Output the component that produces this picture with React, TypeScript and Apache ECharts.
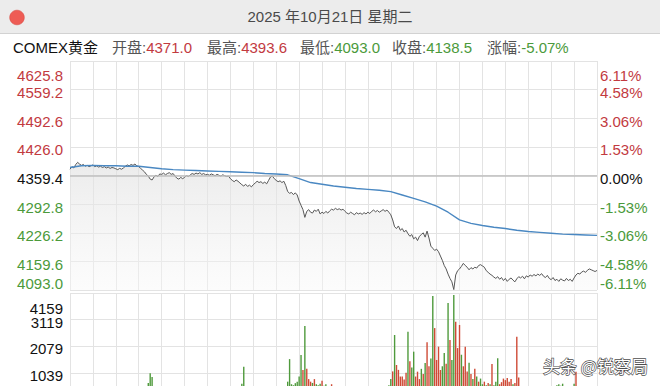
import React, { useEffect, useRef } from 'react';
import * as echarts from 'echarts';

const FONT = '"Liberation Sans", "Noto Sans CJK SC", Arial, sans-serif';

const titleText = '2025 年10月21日 星期二';
const instrument = 'COMEX黄金';
const quoteLabels = ['开盘:', '最高:', '最低:', '收盘:', '涨幅:'];
const quoteValues = ['4371.0', '4393.6', '4093.0', '4138.5', '-5.07%'];
const quoteUp = [true, true, false, false, false];
const watermark = '头条 @锐察局';

const prevClose = 4359.4;
const priceTicks = ['4093.0', '4159.6', '4226.2', '4292.8', '4359.4', '4426.0', '4492.6', '4559.2', '4625.8'];
const pctTicks = ['-6.11%', '-4.58%', '-3.06%', '-1.53%', '0.00%', '1.53%', '3.06%', '4.58%', '6.11%'];
const volTicks = ['0', '1039', '2079', '3119', '4159'];

const sessionMinutes = 1380;
const priceStep = 5; // minutes between price points
const avgStep = 30; // minutes between average points

// 5-minute price readings, 23h session
const price = [
  4374, 4380, 4377, 4385, 4390, 4386, 4383, 4385, 4381, 4383, 4380, 4382,
  4384, 4380, 4382, 4379, 4381, 4378, 4380, 4377, 4379, 4376, 4378, 4377,
  4375, 4373, 4376, 4374, 4377, 4381, 4384, 4382, 4385, 4383, 4386, 4382,
  4380, 4376, 4372, 4368, 4362, 4358, 4351, 4349, 4356, 4360, 4357, 4363,
  4362, 4365, 4361, 4364, 4366, 4362, 4364, 4358, 4353, 4351, 4355, 4352,
  4355, 4359, 4357, 4361, 4364, 4362, 4365, 4363, 4366, 4362, 4364, 4361,
  4362, 4360, 4363, 4361, 4359, 4362, 4360, 4358, 4361, 4359, 4357, 4358,
  4352, 4348, 4345, 4349, 4346, 4342, 4338, 4335, 4339, 4334, 4337, 4333,
  4338, 4342, 4346, 4343, 4345, 4341, 4344, 4340, 4348, 4356, 4358, 4352,
  4348, 4345, 4347, 4343, 4346, 4336, 4322, 4318, 4320, 4315, 4319, 4314,
  4300, 4290, 4280, 4262, 4276, 4280, 4274, 4272, 4279, 4276, 4281, 4270,
  4274, 4271, 4276, 4272, 4277, 4281, 4279, 4283, 4280, 4282, 4279, 4281,
  4276, 4272, 4270, 4274, 4271, 4268, 4273, 4270, 4272, 4269, 4273, 4270,
  4274, 4271, 4276, 4279, 4275, 4278, 4274, 4277, 4280, 4276, 4279, 4274,
  4268, 4256, 4240, 4236, 4242, 4232, 4236, 4228, 4232, 4224, 4218, 4222,
  4212, 4216, 4208, 4218, 4222, 4226, 4216, 4230, 4214, 4195, 4190, 4185,
  4188, 4182, 4172, 4162, 4150, 4142, 4130, 4120, 4112, 4094, 4128, 4138,
  4142, 4148, 4155, 4150, 4146, 4140, 4145, 4142, 4146, 4144, 4150, 4152,
  4149, 4146, 4138, 4134, 4130, 4127, 4123, 4120, 4124, 4118, 4122, 4115,
  4120, 4113, 4118, 4121, 4116, 4112, 4119, 4124, 4121, 4125, 4119, 4126,
  4123, 4128, 4125, 4129, 4126, 4130, 4127, 4131, 4125, 4122, 4127, 4120,
  4117, 4122, 4115, 4118, 4113, 4119, 4116, 4114, 4120, 4115, 4118, 4113,
  4121, 4128, 4132, 4130, 4135, 4137, 4134, 4139, 4142, 4140, 4138, 4136,
  4138.5,
];

// 30-minute average-price readings
const avgPrice = [
  4378, 4382, 4383, 4382, 4382, 4381, 4381, 4378, 4375, 4373, 4372, 4371,
  4370, 4369, 4368, 4367, 4366, 4364, 4363, 4361, 4352, 4343, 4339, 4335,
  4332, 4329, 4327, 4325, 4322, 4314, 4306, 4298, 4288, 4274, 4256, 4248,
  4243, 4239, 4236, 4232, 4229, 4227, 4225, 4223, 4222, 4221, 4220,
];

// 5-minute volume readings
const volume = [
  420, 260, 310, 240, 380, 200, 280, 190, 230, 170, 260, 210,
  180, 240, 160, 220, 150, 260, 190, 140, 210, 170, 230, 150,
  160, 210, 140, 250, 190, 300, 230, 180, 260, 210, 290, 240,
  520, 310, 280, 360, 420, 650, 1030, 880, 450, 380, 300, 340,
  280, 320, 250, 300, 270, 330, 240, 380, 420, 310, 260, 290,
  240, 300, 220, 260, 310, 230, 280, 210, 250, 190, 270, 220,
  200, 240, 180, 230, 260, 190, 220, 170, 250, 210, 300, 260,
  350, 420, 310, 380, 290, 430, 620, 1280, 480, 360, 410, 330,
  300, 380, 340, 290, 360, 270, 320, 280, 420, 480, 390, 350,
  380, 320, 360, 300, 410, 480, 700, 1580, 600, 560, 640, 700,
  900, 1740, 1150, 2870, 1200, 800, 700, 650, 800, 600, 560, 620,
  740, 540, 600, 520, 480, 600, 450, 380, 420, 360, 400, 340,
  380, 320, 360, 300, 340, 280, 330, 300, 360, 290, 340, 310,
  350, 290, 380, 330, 400, 360, 420, 380, 450, 410, 480, 560,
  800, 1100, 2520, 1350, 1160, 900, 900, 780, 1050, 2650, 1500, 1250,
  1870, 900, 1090, 800, 1200, 1000, 1430, 2235, 1300, 1600, 4040, 2790,
  1545, 2065, 1155, 1300, 1820, 1400, 3770, 2325, 1545, 4080, 3040, 2010,
  2910, 1750, 1300, 2065, 1100, 1440, 1000, 800, 1200, 900, 700, 820,
  600, 700, 560, 650, 600, 1390, 560, 700, 1610, 600, 680, 820,
  760, 840, 700, 800, 600, 650, 2455, 860, 480, 420, 380, 450,
  400, 360, 420, 380, 340, 410, 370, 330, 390, 350, 420, 380,
  440, 400, 460, 560, 600, 540, 620, 480, 420, 380, 450, 400,
  620, 1090, 480, 420, 380, 440, 400, 360, 420, 390, 350, 410,
  300,
];

// indices of volume bars drawn red (up); the rest are green (down)
const upBars = [
  122, 124, 125, 126, 128, 132, 137, 169, 171, 172, 173, 174, 175, 176, 178,
  181, 182, 183, 185, 187, 188, 191, 192, 193, 194, 197, 199, 202, 203, 204,
  206, 207, 208, 210, 212, 214, 217, 219, 221, 225, 226, 227, 228, 229, 230,
  231, 233, 234, 235, 265,
];

const RED = '#c23a3f';
const GREEN = '#4b9a3b';
const GRID = '#e3e3e3';
const BAR_RED = '#cf4a36';
const BAR_GREEN = '#4f9a3c';

const P_MIN = -2664;
const P_MAX = 2664;
const P_INT = 666;
const V_MAX = 4159;
const V_INT = 1039.75;

const toAxis = (p: number) => Math.round((p - prevClose) * 10);

function buildRich(pads: Record<string, number[]>) {
  const colors: Record<string, string> = { r: RED, k: '#111111', g: GREEN };
  const rich: Record<string, any> = {};
  for (const c of Object.keys(colors)) {
    for (const p of Object.keys(pads)) {
      rich[c + p] = { color: colors[c], padding: pads[p], fontSize: 15, fontFamily: FONT };
    }
  }
  return rich;
}

const priceRich = buildRich({ T: [28, 0, 0, 0], M: [6, 0, 0, 0], B: [0, 0, 14, 0] });
const volRich = buildRich({ T: [30, 0, 0, 0], M: [5, 0, 0, 0], B: [0, 0, 0, 0] });

function tickTag(idx: number, last: number, mid: number | null) {
  const side = mid === null ? 'k' : idx > mid ? 'r' : idx < mid ? 'g' : 'k';
  const pos = idx === last ? 'T' : idx === 0 ? 'B' : 'M';
  return side + pos;
}

const priceFormatter = (labels: string[]) => (v: number) => {
  const idx = Math.round((v - P_MIN) / P_INT);
  return `{${tickTag(idx, 8, 4)}|${labels[idx] ?? ''}}`;
};

// inner volume ticks (the top one is drawn by a separate axis so it never hides its neighbour)
const volFormatter = (v: number) => {
  const idx = Math.round(v / V_INT);
  if (idx >= volTicks.length - 1) return '';
  return `{${tickTag(idx, 4, null)}|${volTicks[idx] ?? ''}}`;
};
const volTopFormatter = (v: number) =>
  v >= V_MAX ? `{kT|${volTicks[volTicks.length - 1]}}` : '';

function buildOption() {
  const upSet = new Set(upBars);
  const quoteX = [112, 207, 300, 392, 487];
  const textBase = { fontSize: 15, fontFamily: FONT };

  const xBase = {
    type: 'value',
    min: 0,
    max: sessionMinutes,
    interval: 60,
    axisLine: { show: false },
    axisTick: { show: false },
    axisLabel: { show: false },
    splitLine: { show: true, lineStyle: { color: GRID, width: 1 } },
  };

  return {
    animation: false,
    backgroundColor: '#ffffff',
    textStyle: { fontFamily: FONT },
    grid: [
      { left: 70, right: 63, top: 61, height: 229, containLabel: false, outerBoundsMode: 'none' },
      { left: 70, right: 63, top: 293, height: 106.6, containLabel: false, outerBoundsMode: 'none' },
    ],
    xAxis: [
      { ...xBase, gridIndex: 0 },
      { ...xBase, gridIndex: 1 },
    ],
    yAxis: [
      {
        type: 'value', gridIndex: 0, position: 'left', min: P_MIN, max: P_MAX, interval: P_INT,
        axisLine: { show: false }, axisTick: { show: false },
        splitLine: { show: true, lineStyle: { color: GRID, width: 1 } },
        axisLabel: {
          margin: 7, showMinLabel: true, showMaxLabel: true, hideOverlap: false,
          formatter: priceFormatter(priceTicks), rich: priceRich,
        },
      },
      {
        type: 'value', gridIndex: 0, position: 'right', min: P_MIN, max: P_MAX, interval: P_INT,
        axisLine: { show: false }, axisTick: { show: false }, splitLine: { show: false },
        axisLabel: {
          margin: 3, showMinLabel: true, showMaxLabel: true, hideOverlap: false,
          formatter: priceFormatter(pctTicks), rich: priceRich,
        },
      },
      {
        type: 'value', gridIndex: 1, position: 'left', min: 0, max: V_MAX, interval: V_INT,
        axisLine: { show: false }, axisTick: { show: false },
        splitLine: { show: true, lineStyle: { color: GRID, width: 1 } },
        axisLabel: {
          margin: 7, showMinLabel: true, showMaxLabel: false, hideOverlap: false,
          formatter: volFormatter, rich: volRich,
        },
      },
      {
        type: 'value', gridIndex: 1, position: 'left', min: 0, max: V_MAX, interval: V_MAX,
        axisLine: { show: false }, axisTick: { show: false }, splitLine: { show: false },
        axisLabel: {
          margin: 7, showMinLabel: false, showMaxLabel: true, hideOverlap: false,
          formatter: volTopFormatter, rich: volRich,
        },
      },
    ],
    series: [
      {
        type: 'line',
        name: 'price',
        xAxisIndex: 0,
        yAxisIndex: 0,
        silent: true,
        showSymbol: false,
        symbol: 'none',
        data: price.map((p, i) => [i * priceStep, toAxis(p)]),
        lineStyle: { color: '#575757', width: 1 },
        areaStyle: {
          origin: 'start',
          color: new echarts.graphic.LinearGradient(0, 0, 0, 1, [
            { offset: 0, color: 'rgba(224,224,224,0.9)' },
            { offset: 1, color: 'rgba(248,248,248,0.6)' },
          ]),
        },
        markLine: {
          silent: true,
          symbol: ['none', 'none'],
          label: { show: false },
          lineStyle: { color: '#bfbfbf', width: 1.5, type: 'solid' },
          data: [{ yAxis: 0 }],
        },
        z: 3,
      },
      {
        type: 'line',
        name: 'avg',
        xAxisIndex: 0,
        yAxisIndex: 0,
        silent: true,
        showSymbol: false,
        symbol: 'none',
        data: avgPrice.map((p, k) => [k * avgStep, toAxis(p)]),
        lineStyle: { color: '#4a88c2', width: 1.4 },
        z: 4,
      },
      {
        type: 'bar',
        name: 'volume',
        xAxisIndex: 1,
        yAxisIndex: 2,
        silent: true,
        barWidth: 1.4,
        data: volume.map((v, i) => [i * priceStep, v]),
        itemStyle: {
          color: (p: any) => (upSet.has(p.dataIndex) ? BAR_RED : BAR_GREEN),
        },
      },
    ],
    graphic: [
      { type: 'rect', shape: { x: 0, y: 0, width: 660, height: 33 }, style: { fill: '#ececec' } },
      { type: 'line', shape: { x1: 0, y1: 33.5, x2: 660, y2: 33.5 }, style: { stroke: '#d2d2d2', lineWidth: 1 } },
      { type: 'circle', shape: { cx: 17, cy: 17.5, r: 7.3 }, style: { fill: '#ee5c55', stroke: '#d84b43', lineWidth: 0.6 } },
      {
        type: 'text', x: 330, y: 16,
        style: {
          text: titleText, fill: '#4a4a4a', ...textBase,
          align: 'center', verticalAlign: 'middle', textAlign: 'center', textVerticalAlign: 'middle',
        },
      },
      {
        type: 'text', x: 13, y: 47.5,
        style: {
          text: instrument, fill: '#111111', ...textBase,
          align: 'left', verticalAlign: 'middle', textAlign: 'left', textVerticalAlign: 'middle',
        },
      },
      ...quoteLabels.map((l, i) => ({
        type: 'text', x: quoteX[i], y: 47.5,
        style: {
          text: `{l|${l}}{${quoteUp[i] ? 'r' : 'g'}|${quoteValues[i]}}`,
          ...textBase,
          align: 'left', verticalAlign: 'middle', textAlign: 'left', textVerticalAlign: 'middle',
          rich: {
            l: { fill: '#555555', ...textBase },
            r: { fill: RED, ...textBase },
            g: { fill: GREEN, ...textBase },
          },
        },
      })),
      {
        type: 'text', x: 543, y: 365, z: 100,
        style: {
          text: watermark, fill: '#ffffff', stroke: '#4d4d4d', lineWidth: 1.3,
          fontSize: 17, fontFamily: '"Noto Sans CJK SC", sans-serif',
          align: 'left', verticalAlign: 'middle', textAlign: 'left', textVerticalAlign: 'middle',
        },
      },
    ],
  };
}

export default function App() {
  const ref = useRef<HTMLDivElement>(null);
  useEffect(() => {
    document.body.style.margin = '0';
    const chart = echarts.init(ref.current as HTMLDivElement, null, { renderer: 'svg' });
    chart.setOption(buildOption() as any);
    return () => chart.dispose();
  }, []);
  return (
    <div
      ref={ref}
      style={{ position: 'fixed', left: 0, top: 0, width: 660, height: 386, background: '#ffffff' }}
    />
  );
}
